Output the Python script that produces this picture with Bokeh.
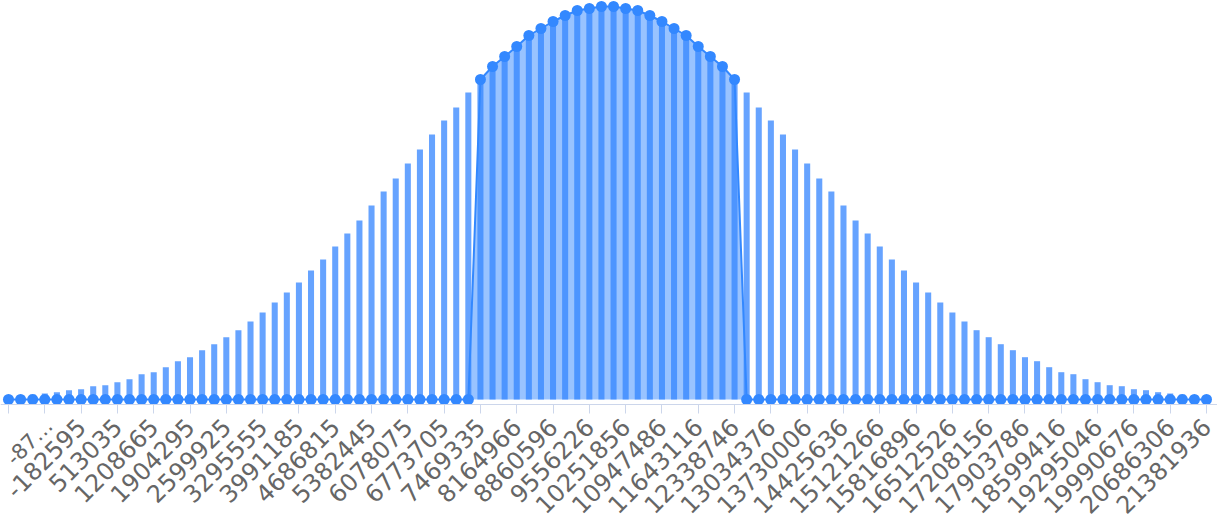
import math
from bokeh.plotting import figure
from bokeh.models import Range1d, FixedTicker, LinearAxis
from bokeh.embed import file_html
from bokeh.resources import INLINE

# Histogram heights for 100 bins
counts = [
    3.5, 4.3, 5.0, 6.0, 7.3, 9.3, 10.3, 13.3, 14.3, 17.3,
    20.3, 25.3, 27.3, 32.3, 38.3, 42.3, 49.3, 55.3, 62.3, 69.3,
    78, 87, 97, 107, 117, 129, 140, 153, 166, 179,
    194, 208, 221, 236, 250, 265, 279, 292, 307, 320,
    333, 343, 353, 364, 371, 378, 384, 389, 391, 393,
    393, 391, 389, 384, 378, 371, 364, 353, 343, 333,
    320, 307, 292, 279, 265, 250, 236, 221, 208, 194,
    179, 166, 153, 140, 129, 117, 107, 97, 87, 78,
    69.3, 62.3, 55.3, 49.3, 42.3, 38.3, 32.3, 27.3, 25.3, 20.3,
    17.3, 14.3, 13.3, 10.3, 9.3, 7.3, 6.0, 5.0, 4.3, 3.5,
]

# Category tick positions (every third bin) and their labels
tick_index = list(range(0, 100, 3))
tick_labels = [
    "", "-87…", "-182595", "513035", "1208665", "1904295", "2599925",
    "3295555", "3991185", "4686815", "5382445", "6078075", "6773705",
    "7469335", "8164966", "8860596", "9556226", "10251856", "10947486",
    "11643116", "12338746", "13034376", "13730006", "14425636", "15121266",
    "15816896", "16512526", "17208156", "17903786", "18599416", "19295046",
    "19990676", "20686306", "21381936",
]
truncated_index = 3   # truncated first visible label, drawn a little smaller

# Bins covered by the highlighted line/area series
highlight_first = 39
highlight_last = 60

x = list(range(len(counts)))
line_vals = [c if highlight_first <= i <= highlight_last else 0 for i, c in enumerate(counts)]

p = figure(
    width=1217, height=523,
    x_range=Range1d(-0.661, 99.909), y_range=Range1d(-124, 399),
    output_backend="svg", toolbar_location=None, y_axis_location=None,
    min_border=0,
)
p.outline_line_color = None
p.xgrid.visible = False
p.ygrid.visible = False
p.background_fill_color = "white"
p.border_fill_color = "white"

p.vbar(x=x, top=counts, bottom=0, width=0.5, fill_color="#66a3ff", line_color=None)
p.varea(x=x, y1=[0] * len(x), y2=line_vals, fill_color="#3388ff", fill_alpha=0.5)
p.line(x=x, y=line_vals, line_color="#3388ff", line_width=2)
p.scatter(x=x, y=line_vals, size=11, fill_color="#3388ff", line_color=None)

overrides = {i: lab for i, lab in zip(tick_index, tick_labels)}
first_label = overrides[truncated_index]
overrides[truncated_index] = ""

def style_labels(axis, size):
    axis.major_label_orientation = math.pi / 4
    axis.major_label_text_font = "DejaVu Sans"
    axis.major_label_text_font_size = size
    axis.major_label_text_color = "#666666"
    axis.major_label_standoff = 9
    axis.major_tick_out = 9
    axis.major_tick_in = 0
    axis.minor_tick_line_color = None

ax = p.xaxis[0]
ax.fixed_location = -5
ax.ticker = FixedTicker(ticks=tick_index)
ax.major_label_overrides = overrides
ax.axis_line_color = "#ccd6eb"
ax.major_tick_line_color = "#ccd6eb"
style_labels(ax, "24px")

first_pos = truncated_index + 0.35
ax2 = LinearAxis(fixed_location=-5, ticker=FixedTicker(ticks=[first_pos]),
                 major_label_overrides={first_pos: first_label},
                 axis_line_color=None, major_tick_line_color=None)
style_labels(ax2, "21px")
p.add_layout(ax2, "below")

open("out.html", "w").write(file_html(p, INLINE))
